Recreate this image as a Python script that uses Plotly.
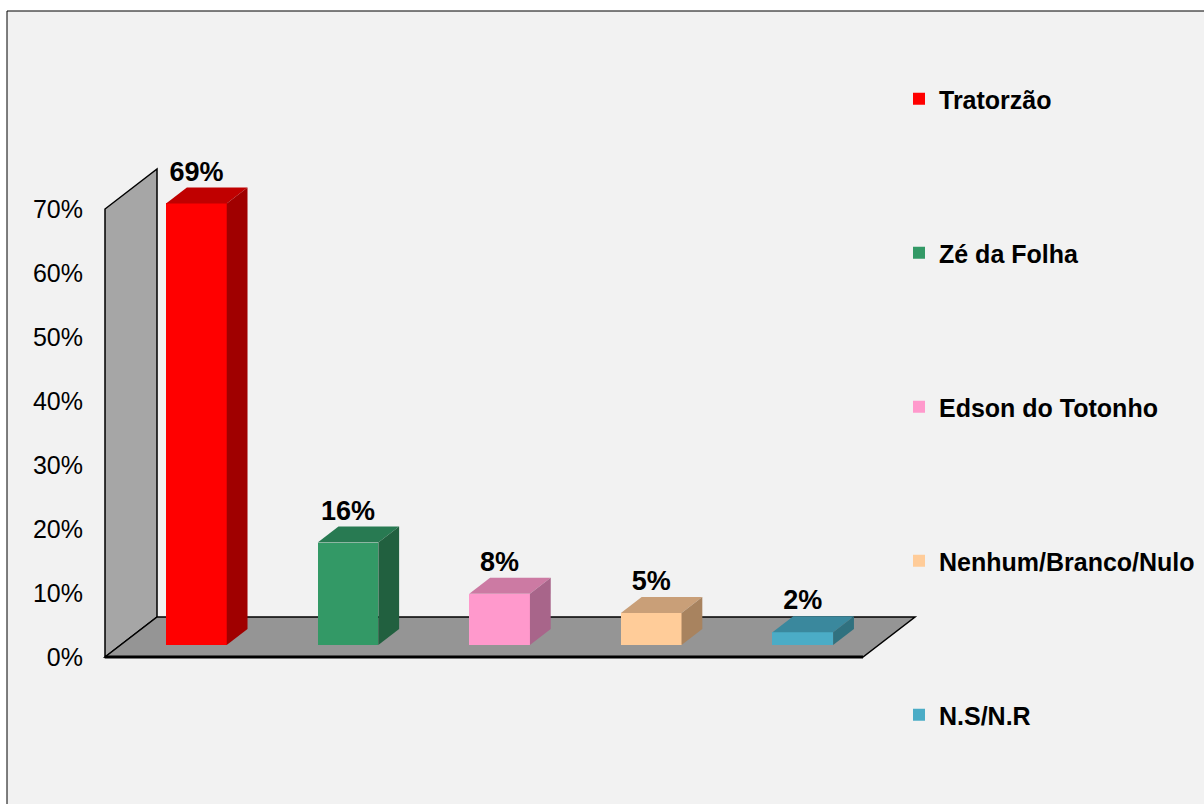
import plotly.graph_objects as go

# ---- data ----
categories = ["Tratorzão", "Zé da Folha", "Edson do Totonho", "Nenhum/Branco/Nulo", "N.S/N.R"]
values = [69, 16, 8, 5, 2]
value_labels = ["69%", "16%", "8%", "5%", "2%"]
front_colors = ["#FF0000", "#339966", "#FF99CC", "#FFCC99", "#4BACC6"]
top_colors = ["#C00000", "#287A52", "#CC7AA3", "#C99F78", "#3A889D"]
side_colors = ["#A00000", "#21603F", "#A8658A", "#A8835F", "#30717F"]
y_ticks = [0, 10, 20, 30, 40, 50, 60, 70]
y_tick_labels = ["0%", "10%", "20%", "30%", "40%", "50%", "60%", "70%"]

# ---- geometry (layout) ----
W, H = 1204, 804
ML = 84
FRONT_X0 = 105.0      # px of front-left axis
CAT_PX = 151.6        # px per category
Y0_PX = 657.0         # px of 0%
PX_PER_PCT = 6.4
DEPTH_DX_PX, DEPTH_DY_PX = 52.0, 40.0
DX = DEPTH_DX_PX / CAT_PX
DY = DEPTH_DY_PX / PX_PER_PCT
F0, F1 = 0.3, 0.7
BAR_W = 0.4
YMAX = 70
FONT = "Arial, Liberation Sans, sans-serif"


def px_to_x(px):
    return (px - FRONT_X0) / CAT_PX - 0.5


x_range = [px_to_x(ML), px_to_x(W)]
y_range = [(Y0_PX - H) / PX_PER_PCT, Y0_PX / PX_PER_PCT]

fig = go.Figure()

n = len(categories)
for i, (cat, v) in enumerate(zip(categories, values)):
    xc = i + F0 * DX
    base = F0 * DY
    fig.add_trace(go.Bar(
        x=[xc], y=[v], base=[base], width=[BAR_W],
        marker=dict(color=front_colors[i], line=dict(width=0)),
        name=cat, legendgroup=f"g{i}", showlegend=True,
        hovertemplate=f"{cat}: {value_labels[i]}<extra></extra>",
    ))

for i, v in enumerate(values):
    xc = i + F0 * DX
    base = F0 * DY
    top = base + v
    xl, xr = xc - BAR_W / 2, xc + BAR_W / 2
    ddx, ddy = (F1 - F0) * DX, (F1 - F0) * DY
    fig.add_trace(go.Scatter(
        x=[xl, xr, xr + ddx, xl + ddx, xl], y=[top, top, top + ddy, top + ddy, top],
        fill="toself", fillcolor=top_colors[i], mode="lines", line=dict(width=0, color=top_colors[i]),
        showlegend=False, hoverinfo="skip"))
    fig.add_trace(go.Scatter(
        x=[xr, xr, xr + ddx, xr + ddx, xr], y=[base, top, top + ddy, base + ddy, base],
        fill="toself", fillcolor=side_colors[i], mode="lines", line=dict(width=0, color=side_colors[i]),
        showlegend=False, hoverinfo="skip"))

# data labels
fig.add_trace(go.Scatter(
    x=[i + F0 * DX for i in range(n)],
    y=[F0 * DY + v + (F1 - F0) * DY for v in values],
    mode="text", text=value_labels, textposition="top center",
    textfont=dict(family=FONT, size=27, color="black", weight="bold"),
    showlegend=False, hoverinfo="skip"))

# walls (chart frame, not data)
x_left = -0.5
x_right = n - 0.5
wall_path = (f"M {x_left},0 L {x_left},{YMAX} L {x_left + DX},{YMAX + DY} "
             f"L {x_left + DX},{DY} Z")
floor_path = (f"M {x_left},0 L {x_left + DX},{DY} L {x_right + DX},{DY} L {x_right},0 Z")
shapes = [
    dict(type="rect", xref="paper", yref="paper",
         x0=(7 - ML) / (W - ML), x1=(1215 - ML) / (W - ML), y0=1 - 815 / H, y1=1 - 11 / H,
         fillcolor="#F2F2F2", line=dict(color="black", width=1), layer="below"),
    dict(type="path", xref="x", yref="y", path=wall_path, fillcolor="#A6A6A6",
         line=dict(color="black", width=1.5), layer="below"),
    dict(type="path", xref="x", yref="y", path=floor_path, fillcolor="#959595",
         line=dict(color="black", width=1.5), layer="below"),
    dict(type="line", xref="x", yref="y", x0=x_left, x1=x_right, y0=0, y1=0,
         line=dict(color="black", width=3), layer="below"),
]

fig.update_layout(
    width=W, height=H,
    margin=dict(l=ML, r=0, t=0, b=0, pad=0),
    paper_bgcolor="white", plot_bgcolor="rgba(0,0,0,0)",
    shapes=shapes,
    showlegend=True,
    legend=dict(
        x=(899 - ML) / (W - ML), y=1 - 76 / H, xanchor="left", yanchor="top",
        bgcolor="rgba(0,0,0,0)", tracegroupgap=118.5,
        font=dict(family=FONT, size=25, color="black", weight="bold"),
    ),
    xaxis=dict(range=x_range, visible=False, fixedrange=True),
    yaxis=dict(range=y_range, tickvals=y_ticks, ticktext=y_tick_labels, showgrid=False,
               zeroline=False, showline=False, ticks="", fixedrange=True,
               tickfont=dict(family=FONT, size=25, color="black")),
    bargap=0,
)

fig.write_html("out.html", config={"displayModeBar": False},
               post_script="document.body.style.margin='0px';")
